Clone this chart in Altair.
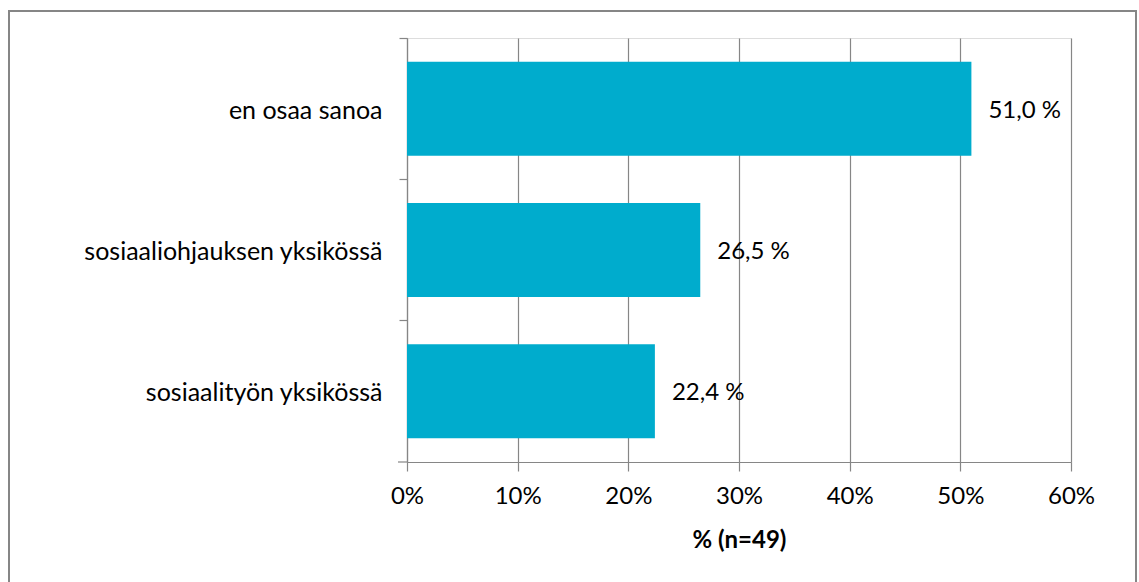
import altair as alt
import pandas as pd

categories = ["en osaa sanoa", "sosiaaliohjauksen yksikössä", "sosiaalityön yksikössä"]
values = [51.0, 26.5, 22.4]
labels = ["51,0 %", "26,5 %", "22,4 %"]
x_ticks = [0, 10, 20, 30, 40, 50, 60]
x_title = "% (n=49)"

df = pd.DataFrame({"cat": categories, "val": values, "label": labels})

W, H = 664, 424
FONT = "Lato"
GRAY = "#868686"
BAR = "#00ACCD"
FS = 24

y_enc = alt.Y(
    "cat:N", sort=categories,
    scale=alt.Scale(paddingInner=0, paddingOuter=0),
    axis=alt.Axis(title=None, bandPosition=0, ticks=True, tickSize=8, tickColor=GRAY,
                  domainColor=GRAY, labelPadding=17, labelFontSize=25, labelColor="black",
                  labelFont=FONT, grid=False, labelLimit=500, tickWidth=1.2, domainWidth=1.2,
                  labelBaseline="middle", labelOffset=2),
)
x_enc = alt.X(
    "val:Q", scale=alt.Scale(domain=[0, 60], nice=False),
    axis=alt.Axis(values=x_ticks, labelExpr="datum.value + '%'", title=x_title,
                  titleFont=FONT, titleFontSize=FS, titleFontWeight="bold", titleColor="black",
                  titleY=78, titleBaseline="middle",
                  labelFont=FONT, labelFontSize=FS, labelColor="black", labelPadding=13,
                  labelFlush=False, labelOverlap=False,
                  tickSize=9, tickColor=GRAY, domainColor=GRAY, gridColor=GRAY,
                  gridOpacity=1, grid=True, tickWidth=1.2, gridWidth=1.2, domainWidth=1.2),
)

bars = alt.Chart(df).mark_bar(color=BAR, size=94).encode(y=y_enc, x=x_enc)
texts = alt.Chart(df).mark_text(align="left", dx=17, dy=2, fontSize=FS, font=FONT, color="black").encode(
    y=alt.Y("cat:N", sort=categories), x="val:Q", text="label:N")

frame_df = pd.DataFrame({"k": [0]})
frame = alt.Chart(frame_df).mark_rect(filled=False, stroke=GRAY, strokeWidth=2).encode(
    x=alt.value(9 - 407), x2=alt.value(1136 - 407), y=alt.value(11 - 38), y2=alt.value(700))
tick_ext = alt.Chart(frame_df).mark_rule(color=GRAY, strokeWidth=1.2).encode(
    x=alt.value(-9), x2=alt.value(0), y=alt.value(H), y2=alt.value(H))

chart = alt.layer(frame, bars, texts, tick_ext).properties(
    width=W, height=H,
    padding={"left": 407, "top": 38, "right": 1139 - 407 - W, "bottom": 582 - 38 - H},
    autosize=alt.AutoSizeParams(type="none"),
).configure_view(stroke=None).configure(background="white")

chart.save("out.html", embed_options={"renderer": "svg", "actions": False})
